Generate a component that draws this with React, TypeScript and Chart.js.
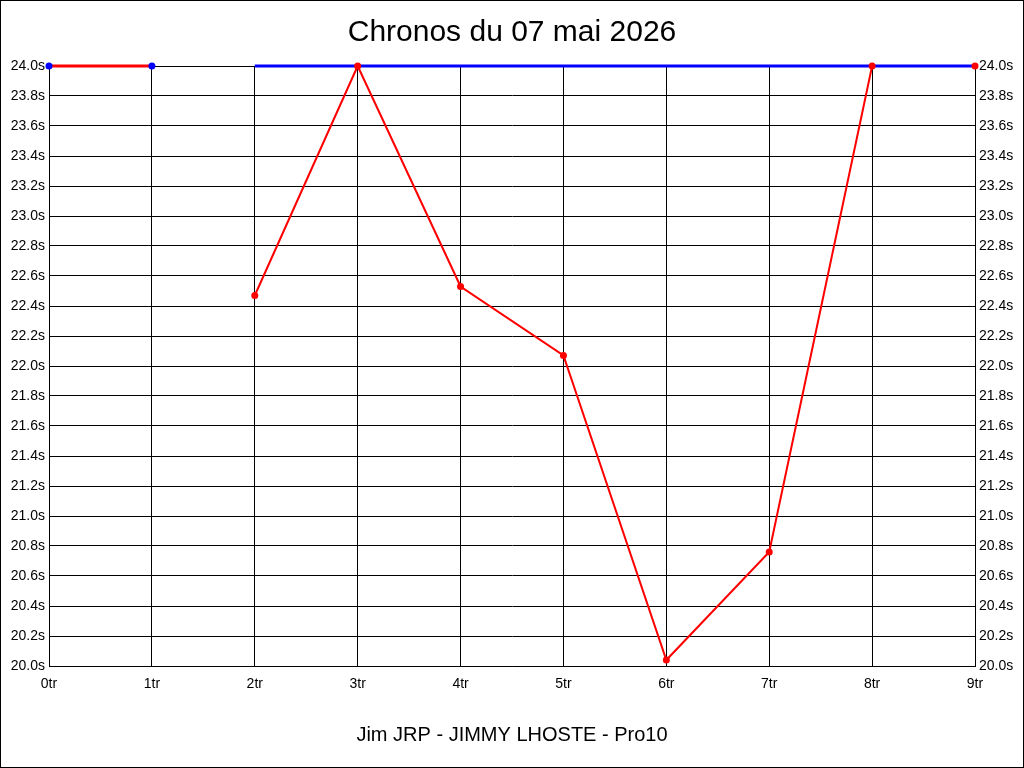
import React, { useEffect, useRef } from "react";
import { Chart, registerables } from "chart.js";

Chart.register(...registerables);

const lapLabels = ["0tr", "1tr", "2tr", "3tr", "4tr", "5tr", "6tr", "7tr", "8tr", "9tr"];
const lapTimes = [24.0, 24.0, 22.47, 24.0, 22.53, 22.07, 20.04, 20.76, 24.0, 24.0];
const bestLine = [null, null, 24.0, 24.0, 24.0, 24.0, 24.0, 24.0, 24.0, 24.0];
const markerColors = ["#0000ff", "#0000ff", "#ff0000", "#ff0000", "#ff0000", "#ff0000", "#ff0000", "#ff0000", "#ff0000", "#ff0000"];
const titleText = "Chronos du 07 mai 2026";
const footerText = "Jim JRP - JIMMY LHOSTE - Pro10";
const yMin = 20.0;
const yMax = 24.0;
const yStep = 0.2;

const FONT = "'Liberation Sans', Arial, sans-serif";

export default function App() {
  const ref = useRef<HTMLCanvasElement | null>(null);

  useEffect(() => {
    document.body.style.margin = "0";
    const canvas = ref.current;
    if (!canvas) return;

    const frame = {
      id: "frame",
      beforeDraw(chart: any) {
        const ctx = chart.ctx;
        ctx.save();
        ctx.fillStyle = "#ffffff";
        ctx.fillRect(0, 0, chart.width, chart.height);
        ctx.strokeStyle = "#000000";
        ctx.lineWidth = 1;
        ctx.strokeRect(0.5, 0.5, chart.width - 1, chart.height - 1);
        ctx.restore();
      },
    };

    const tickCb = (v: any) => Number(v).toFixed(1) + "s";

    const chart = new Chart(canvas, {
      type: "line",
      data: {
        labels: lapLabels,
        datasets: [
          {
            label: "markers",
            data: lapTimes,
            showLine: false,
            pointRadius: 3.5,
            pointBorderWidth: 0,
            pointBackgroundColor: markerColors,
            pointBorderColor: markerColors,
            order: 0,
            clip: false as any,
          },
          {
            label: "best",
            data: bestLine as any,
            borderColor: "#0000ff",
            borderWidth: 3,
            pointRadius: 0,
            order: 1,
            clip: false as any,
          },
          {
            label: "laps",
            data: lapTimes,
            borderColor: "#ff0000",
            borderWidth: 2,
            pointRadius: 0,
            order: 2,
            clip: false as any,
            segment: {
              borderColor: (c: any) => (c.p0DataIndex === 1 ? "rgba(0,0,0,0)" : "#ff0000"),
              borderWidth: (c: any) => (c.p0DataIndex === 0 ? 3 : 2),
            },
          },
        ],
      },
      options: {
        animation: false,
        responsive: false,
        devicePixelRatio: 1,
        layout: { padding: 0 },
        plugins: {
          legend: { display: false },
          tooltip: { enabled: false },
          title: {
            display: true,
            text: titleText,
            color: "#000000",
            font: { family: FONT, size: 30, weight: "normal", lineHeight: 1.2 },
            padding: { top: 15, bottom: 15 },
          },
          subtitle: {
            display: true,
            position: "bottom",
            text: footerText,
            color: "#000000",
            font: { family: FONT, size: 20, weight: "normal", lineHeight: 1.2 },
            padding: { top: 0, bottom: 21 },
          },
        },
        scales: {
          x: {
            type: "category",
            offset: false,
            grid: { color: "#000000", lineWidth: 1, drawTicks: false },
            border: { color: "#000000", width: 1 },
            ticks: {
              color: "#000000",
              font: { family: FONT, size: 14 },
              padding: 10,
              maxRotation: 0,
              autoSkip: false,
            },
            afterFit(scale: any) {
              scale.height = 57;
            },
          },
          y: {
            type: "linear",
            position: "left",
            min: yMin,
            max: yMax,
            grid: { color: "#000000", lineWidth: 1, drawTicks: false },
            border: { color: "#000000", width: 1 },
            ticks: {
              stepSize: yStep,
              color: "#000000",
              font: { family: FONT, size: 14 },
              padding: 4,
              callback: tickCb,
            },
            afterFit(scale: any) {
              scale.width = 49;
            },
          },
          y2: {
            type: "linear",
            position: "right",
            min: yMin,
            max: yMax,
            grid: { display: false, drawTicks: false },
            border: { color: "#000000", width: 1 },
            ticks: {
              stepSize: yStep,
              color: "#000000",
              font: { family: FONT, size: 14 },
              padding: 4,
              callback: tickCb,
            },
            afterFit(scale: any) {
              scale.width = 49;
            },
          },
        },
      },
      plugins: [frame],
    } as any);

    return () => chart.destroy();
  }, []);

  return (
    <div style={{ width: 1024, height: 768 }}>
      <canvas ref={ref} width={1024} height={768} style={{ display: "block", width: 1024, height: 768 }} />
    </div>
  );
}
